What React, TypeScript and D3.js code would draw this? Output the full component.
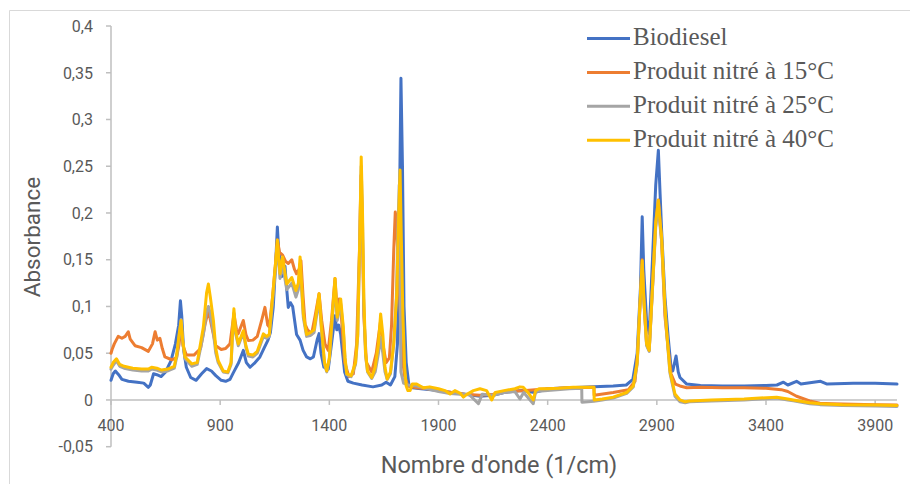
import React from "react";
import * as d3 from "d3";

// [wavenumber (1/cm), absorbance]
const biodiesel: [number, number][] = [
  [400,0.021],[410,0.028],[420,0.031],[435,0.027],[450,0.022],[480,0.020],[520,0.019],[550,0.018],[571,0.0135],[580,0.016],
  [595,0.028],[610,0.027],[630,0.025],[650,0.030],[675,0.042],[695,0.060],[710,0.080],[718,0.106],[724,0.09],[732,0.055],
  [745,0.035],[765,0.024],[790,0.021],[815,0.028],[838,0.0335],[860,0.031],[880,0.026],[905,0.021],[925,0.020],[945,0.022],
  [960,0.029],[985,0.040],[1006,0.053],[1020,0.040],[1037,0.035],[1060,0.040],[1082,0.046],[1100,0.055],[1119,0.064],[1130,0.072],
  [1143,0.099],[1155,0.150],[1162,0.185],[1168,0.160],[1174,0.150],[1182,0.132],[1190,0.138],[1197,0.143],[1205,0.118],[1212,0.099],
  [1222,0.104],[1232,0.100],[1250,0.070],[1266,0.064],[1280,0.053],[1296,0.046],[1313,0.044],[1327,0.046],[1345,0.065],[1353,0.071],
  [1362,0.050],[1375,0.035],[1395,0.033],[1410,0.060],[1426,0.090],[1434,0.075],[1443,0.080],[1452,0.070],[1470,0.030],[1485,0.020],
  [1510,0.018],[1550,0.016],[1600,0.014],[1640,0.016],[1660,0.019],[1680,0.016],[1700,0.025],[1712,0.06],[1720,0.18],[1728,0.344],
  [1735,0.25],[1742,0.10],[1752,0.04],[1765,0.015],[1780,0.013],[1820,0.012],[1900,0.010],[1960,0.008],[2020,0.006],[2090,0.004],
  [2150,0.005],[2200,0.008],[2280,0.010],[2340,0.008],[2400,0.012],[2500,0.013],[2612,0.014],[2700,0.015],[2760,0.016],[2790,0.022],
  [2810,0.05],[2825,0.12],[2833,0.196],[2840,0.14],[2853,0.085],[2865,0.071],[2880,0.15],[2895,0.23],[2907,0.267],[2915,0.22],
  [2922,0.181],[2937,0.11],[2952,0.067],[2965,0.035],[2973,0.031],[2988,0.047],[2998,0.030],[3006,0.024],[3037,0.017],[3100,0.0155],
  [3200,0.015],[3300,0.015],[3400,0.0155],[3450,0.016],[3480,0.019],[3500,0.016],[3540,0.020],[3560,0.017],[3650,0.020],[3680,0.017],
  [3800,0.018],[3900,0.018],[4000,0.017],
];

const nitre15: [number, number][] = [
  [400,0.050],[405,0.054],[415,0.060],[433,0.068],[450,0.066],[465,0.068],[479,0.073],[488,0.065],[510,0.058],[540,0.056],
  [571,0.052],[590,0.060],[602,0.073],[612,0.064],[624,0.066],[635,0.055],[647,0.046],[678,0.043],[700,0.045],[712,0.060],
  [721,0.080],[730,0.058],[745,0.048],[780,0.048],[810,0.055],[830,0.080],[846,0.096],[860,0.080],[880,0.058],[905,0.054],
  [925,0.055],[945,0.060],[963,0.092],[975,0.075],[983,0.071],[1006,0.085],[1018,0.070],[1029,0.0636],[1050,0.064],[1070,0.068],
  [1090,0.085],[1105,0.099],[1118,0.080],[1125,0.078],[1140,0.110],[1155,0.150],[1162,0.171],[1172,0.158],[1186,0.155],[1200,0.148],
  [1212,0.146],[1228,0.150],[1240,0.140],[1250,0.135],[1262,0.14],[1270,0.149],[1280,0.110],[1289,0.081],[1300,0.075],[1319,0.0707],
  [1335,0.09],[1353,0.1136],[1365,0.085],[1380,0.060],[1395,0.053],[1410,0.085],[1426,0.130],[1436,0.095],[1445,0.108],[1455,0.090],
  [1470,0.040],[1490,0.025],[1510,0.028],[1525,0.06],[1538,0.16],[1545,0.24],[1550,0.20],[1558,0.09],[1570,0.04],[1594,0.030],
  [1615,0.05],[1635,0.085],[1645,0.060],[1660,0.040],[1675,0.045],[1685,0.08],[1695,0.16],[1702,0.201],[1708,0.19],[1716,0.14],
  [1724,0.10],[1732,0.05],[1745,0.025],[1760,0.015],[1800,0.013],[1850,0.012],[1900,0.010],[1960,0.008],[2020,0.006],[2090,0.005],
  [2150,0.006],[2220,0.009],[2300,0.010],[2400,0.012],[2500,0.013],[2612,0.0135],[2613,0.005],[2700,0.008],[2770,0.011],[2800,0.02],
  [2812,0.05],[2825,0.11],[2833,0.15],[2840,0.11],[2853,0.06],[2865,0.053],[2880,0.12],[2895,0.19],[2907,0.214],[2915,0.19],
  [2922,0.17],[2937,0.09],[2952,0.055],[2965,0.028],[2985,0.017],[3006,0.015],[3037,0.013],[3100,0.0135],[3200,0.013],[3300,0.013],
  [3400,0.0125],[3470,0.011],[3500,0.009],[3540,0.004],[3600,-0.001],[3647,-0.0036],[3700,-0.004],[3800,-0.0045],[3900,-0.005],[4000,-0.0055],
];

const nitre25: [number, number][] = [
  [400,0.033],[410,0.037],[425,0.042],[440,0.036],[460,0.034],[500,0.032],[540,0.031],[571,0.031],[586,0.033],[610,0.032],
  [632,0.030],[660,0.031],[690,0.034],[701,0.046],[712,0.068],[721,0.086],[728,0.063],[739,0.044],[770,0.036],[795,0.038],
  [823,0.070],[838,0.095],[846,0.100],[855,0.092],[869,0.072],[880,0.05],[891,0.040],[914,0.030],[935,0.029],[950,0.038],
  [958,0.075],[963,0.093],[970,0.072],[983,0.058],[1006,0.072],[1018,0.056],[1029,0.047],[1050,0.046],[1070,0.050],[1098,0.068],
  [1112,0.066],[1125,0.068],[1140,0.105],[1155,0.145],[1162,0.165],[1174,0.130],[1186,0.145],[1205,0.118],[1228,0.125],[1247,0.110],
  [1258,0.118],[1266,0.145],[1274,0.115],[1281,0.088],[1296,0.068],[1313,0.069],[1330,0.072],[1345,0.095],[1353,0.108],[1365,0.072],
  [1378,0.038],[1388,0.030],[1400,0.043],[1415,0.09],[1426,0.125],[1436,0.085],[1452,0.103],[1464,0.075],[1472,0.043],[1480,0.027],
  [1500,0.025],[1520,0.038],[1530,0.068],[1540,0.175],[1546,0.25],[1552,0.19],[1558,0.10],[1566,0.048],[1575,0.030],[1594,0.023],
  [1610,0.03],[1625,0.05],[1635,0.067],[1645,0.05],[1655,0.03],[1665,0.022],[1680,0.028],[1695,0.06],[1707,0.11],[1715,0.19],
  [1720,0.23],[1724,0.12],[1728,0.03],[1740,0.018],[1760,0.016],[1800,0.015],[1850,0.012],[1900,0.009],[1953,0.007],[2000,0.006],
  [2040,0.006],[2083,-0.004],[2100,0.006],[2150,0.005],[2200,0.008],[2250,0.009],[2273,0.001],[2290,0.008],[2334,-0.004],[2345,0.009],
  [2400,0.010],[2500,0.012],[2556,0.0125],[2557,-0.0025],[2612,-0.0015],[2650,0.000],[2700,0.002],[2762,0.007],[2792,0.014],[2810,0.038],
  [2822,0.098],[2833,0.145],[2840,0.108],[2853,0.058],[2865,0.052],[2880,0.118],[2895,0.185],[2907,0.21],[2915,0.186],[2922,0.17],
  [2937,0.098],[2945,0.072],[2960,0.029],[2983,0.004],[3006,-0.002],[3030,-0.003],[3050,-0.002],[3150,-0.001],[3300,0.000],[3372,0.001],
  [3449,0.002],[3500,0.000],[3525,-0.001],[3600,-0.004],[3647,-0.005],[3750,-0.006],[3900,-0.0065],[4000,-0.007],
];

const nitre40: [number, number][] = [
  [400,0.035],[410,0.040],[425,0.044],[440,0.038],[460,0.036],[500,0.034],[540,0.033],[571,0.033],[586,0.035],[610,0.034],
  [632,0.032],[660,0.033],[690,0.036],[701,0.049],[712,0.070],[721,0.085],[728,0.065],[739,0.046],[770,0.0386],[795,0.040],
  [823,0.078],[838,0.115],[846,0.124],[855,0.110],[869,0.085],[880,0.055],[891,0.042],[914,0.031],[935,0.030],[950,0.040],
  [958,0.080],[963,0.0975],[970,0.075],[983,0.060],[1006,0.074],[1018,0.058],[1029,0.049],[1050,0.048],[1070,0.052],[1098,0.0707],
  [1112,0.068],[1125,0.070],[1140,0.110],[1155,0.150],[1162,0.171],[1174,0.135],[1186,0.153],[1205,0.124],[1228,0.131],[1247,0.117],
  [1258,0.125],[1266,0.153],[1274,0.120],[1281,0.092],[1296,0.070],[1313,0.072],[1330,0.075],[1345,0.10],[1353,0.1136],[1365,0.075],
  [1378,0.040],[1388,0.031],[1400,0.045],[1415,0.095],[1426,0.130],[1436,0.0886],[1452,0.108],[1464,0.078],[1472,0.045],[1480,0.028],
  [1500,0.026],[1520,0.04],[1530,0.07],[1540,0.18],[1546,0.26],[1552,0.20],[1558,0.11],[1566,0.05],[1575,0.031],[1594,0.024],
  [1610,0.035],[1625,0.06],[1635,0.092],[1645,0.07],[1655,0.035],[1665,0.0225],[1680,0.030],[1695,0.06],[1709,0.114],[1718,0.20],
  [1724,0.246],[1730,0.17],[1737,0.09],[1745,0.035],[1752,0.015],[1760,0.010],[1770,0.010],[1780,0.017],[1800,0.017],[1830,0.013],
  [1860,0.014],[1900,0.012],[1930,0.010],[1953,0.0064],[1975,0.010],[2000,0.007],[2014,0.003],[2030,0.006],[2060,0.010],[2090,0.012],
  [2120,0.010],[2144,0.000],[2160,0.008],[2200,0.010],[2250,0.012],[2273,0.014],[2288,0.0135],[2310,0.008],[2325,0.003],[2334,0.000],
  [2345,0.010],[2360,0.012],[2395,0.012],[2450,0.0125],[2517,0.0135],[2612,0.0135],[2613,0.000],[2650,0.001],[2700,0.003],[2762,0.008],
  [2792,0.015],[2810,0.04],[2822,0.10],[2833,0.149],[2840,0.11],[2853,0.06],[2865,0.053],[2880,0.12],[2895,0.19],[2907,0.2136],
  [2915,0.19],[2922,0.174],[2937,0.10],[2945,0.074],[2960,0.031],[2983,0.0064],[3006,0.000],[3030,-0.002],[3050,-0.001],[3150,0.000],
  [3300,0.001],[3372,0.002],[3449,0.003],[3500,0.001],[3525,0.000],[3600,-0.003],[3647,-0.004],[3750,-0.005],[3900,-0.0055],[4000,-0.006],
];

const seriesNames = ["Biodiesel", "Produit nitré à 15°C", "Produit nitré à 25°C", "Produit nitré à 40°C"];
const seriesData = [biodiesel, nitre15, nitre25, nitre40];
const seriesColors = ["#4472C4", "#ED7D31", "#A5A5A5", "#FFC000"];

const xTicks = [400, 900, 1400, 1900, 2400, 2900, 3400, 3900];
const yTicks = [-0.05, 0, 0.05, 0.1, 0.15, 0.2, 0.25, 0.3, 0.35, 0.4];

const W = 910;
const H = 484;

const fmtY = (v: number) => {
  const s = d3.format("~g")(Math.round(v * 1000) / 1000);
  return s.replace(".", ",").replace("−", "-");
};

export default function App() {
  const x = d3.scaleLinear().domain([400, 4000]).range([111, 897]);
  const y = d3.scaleLinear().domain([-0.05, 0.4]).range([446.7, 26]);
  const line = d3
    .line<[number, number]>()
    .x((d) => x(d[0]))
    .y((d) => y(d[1]));
  const axisColor = "#BFBFBF";
  const textColor = "#595959";
  const sans = "Roboto, 'Open Sans', sans-serif";
  const serif = "'Liberation Serif', 'Times New Roman', serif";

  return (
    <svg
      width={W}
      height={H}
      style={{ position: "absolute", left: 0, top: 0, background: "#fff" }}
    >
      <rect x={0} y={0} width={W} height={H} fill="#fff" />
      <path d={`M9.5,${H} V10.5 H${W}`} fill="none" stroke="#D9D9D9" strokeWidth={1} />

      {/* Y axis */}
      <line x1={x(400)} x2={x(400)} y1={y(0.4)} y2={y(-0.05)} stroke={axisColor} strokeWidth={1.5} />
      {yTicks.map((t) => (
        <g key={t}>
          <line x1={x(400) - 5} x2={x(400)} y1={y(t)} y2={y(t)} stroke={axisColor} strokeWidth={1.5} />
          <text
            x={93}
            y={y(t)}
            dy="0.36em"
            textAnchor="end"
            fontFamily={sans}
            fontSize={16}
            fill={textColor}
          >
            {fmtY(t)}
          </text>
        </g>
      ))}

      {/* X axis at zero */}
      <line x1={x(400)} x2={x(4000)} y1={y(0)} y2={y(0)} stroke={axisColor} strokeWidth={1.5} />
      {xTicks.map((t) => (
        <g key={t}>
          <line x1={x(t)} x2={x(t)} y1={y(0)} y2={y(0) + 5} stroke={axisColor} strokeWidth={1.5} />
          <text
            x={x(t)}
            y={430.5}
            textAnchor="middle"
            fontFamily={sans}
            fontSize={16}
            fill={textColor}
          >
            {t}
          </text>
        </g>
      ))}

      {/* Series */}
      {seriesData.map((d, i) => (
        <path
          key={seriesNames[i]}
          d={line(d) || ""}
          fill="none"
          stroke={seriesColors[i]}
          strokeWidth={3}
          strokeLinejoin="round"
          strokeLinecap="round"
        />
      ))}

      {/* Axis titles */}
      <text
        transform={`translate(40,237) rotate(-90)`}
        textAnchor="middle"
        fontFamily={sans}
        fontSize={22.5}
        fill={textColor}
      >
        Absorbance
      </text>
      <text
        x={499}
        y={473}
        textAnchor="middle"
        fontFamily={sans}
        fontSize={23.5}
        fill={textColor}
      >
        Nombre d'onde (1/cm)
      </text>

      {/* Legend */}
      {seriesNames.map((name, i) => {
        const base = 45 + i * 33.9;
        return (
          <g key={name}>
            <line
              x1={587}
              x2={630}
              y1={base - 6.5}
              y2={base - 6.5}
              stroke={seriesColors[i]}
              strokeWidth={3}
            />
            <text x={633} y={base} fontFamily={serif} fontSize={25} fill={textColor}>
              {name}
            </text>
          </g>
        );
      })}
    </svg>
  );
}
